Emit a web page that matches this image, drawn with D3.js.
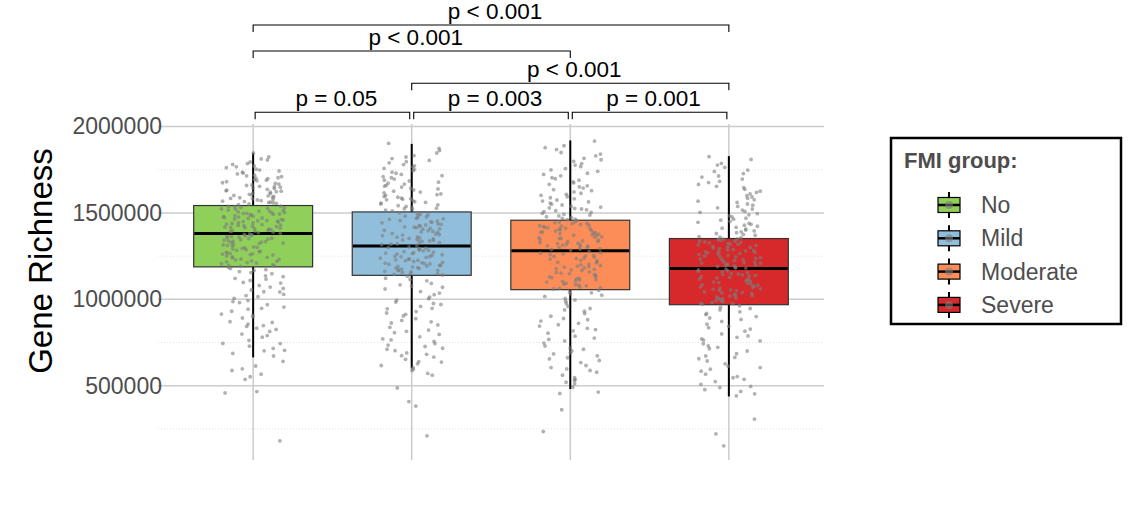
<!DOCTYPE html>
<html>
<head>
<meta charset="utf-8">
<script src="https://cdn.jsdelivr.net/npm/d3@7"></script>
<style>
body { margin: 0; background: #fff; }
text { font-family: 'Liberation Sans', Arial, Helvetica, sans-serif; }
</style>
</head>
<body>
<svg id="chart" width="1138" height="505"></svg>
<script>
let groups = ['No', 'Mild', 'Moderate', 'Severe']
let colors = ['#8fd05a', '#91bfdb', '#fc8d59', '#d7292b']

// box statistics, in thousands
let q1 = [1188, 1139, 1056, 969]
let medians = [1381, 1309, 1282, 1178]
let q3 = [1543, 1506, 1458, 1352]
let whiskerLow = [664, 600, 481, 438]
let whiskerHigh = [1848, 1900, 1920, 1829]

let yTicks = [500, 1000, 1500, 2000]
let yMinor = [250, 750, 1250, 1750]

// individual samples (thousands)
let noPts = [181, 458, 466, 537, 552, 567, 588, 598, 614, 641,
    672, 687, 705, 716, 729, 744, 763, 781, 799, 814, 833, 848, 857, 871, 892, 899, 915, 931, 943, 955, 969, 981, 993, 1006, 1015, 1029, 1043, 1054, 1071, 1080, 1094, 1109, 1121, 1136, 1148, 1161, 1167, 1178, 1185,
    1191, 1197, 1201, 1210, 1213, 1220, 1223, 1229, 1234, 1240, 1246, 1251, 1256, 1262, 1269, 1272, 1278, 1283, 1287, 1295, 1298, 1304, 1308, 1315, 1319, 1323, 1328, 1334, 1337, 1342, 1348, 1351, 1357, 1360, 1365, 1368, 1373, 1376, 1379,
    1383, 1389, 1392, 1395, 1400, 1404, 1407, 1412, 1416, 1418, 1423, 1428, 1430, 1435, 1439, 1442, 1447, 1450, 1455, 1457, 1462, 1465, 1471, 1474, 1478, 1481, 1487, 1490, 1494, 1498, 1502, 1505, 1509, 1514, 1517, 1523, 1526, 1532, 1535, 1540,
    1548, 1552, 1559, 1563, 1568, 1575, 1579, 1584, 1590, 1596, 1601, 1608, 1612, 1620, 1623, 1632, 1637, 1641, 1649, 1654, 1662, 1667, 1675, 1681, 1690, 1694, 1704, 1710, 1719, 1726, 1736, 1743, 1753, 1762, 1772, 1781, 1795, 1807, 1824, 1847,
    702, 745, 790, 826, 866, 905, 948, 987, 1022, 1063, 1098, 1131, 1155, 1172, 1194, 1206, 1217, 1231, 1243, 1259, 1266, 1276, 1291, 1301, 1312, 1326, 1331, 1345, 1354, 1363,
    1371, 1386, 1397, 1409, 1414, 1421, 1433, 1444, 1452, 1460, 1468, 1476, 1484, 1492, 1500, 1511, 1520, 1529, 1538, 1556, 1566, 1571, 1582, 1588, 1599, 1605, 1616, 1628, 1644, 1652,
    1659, 1671, 1686, 1699, 1715, 1731, 1748, 1767, 1786, 1813, 843, 1044, 1117, 1263, 1339, 1426, 1497, 1561, 1626, 1701]
let mildPts = [210, 382, 408, 487, 561, 571, 587, 596,
    604, 617, 627, 640, 653, 666, 674, 690, 703, 717, 727, 744, 756, 771, 783, 797, 807, 822, 838, 852, 863, 878, 888, 904, 913, 929, 945, 959, 970, 984, 995, 1013, 1027, 1045, 1060, 1077, 1092, 1107, 1122, 1134,
    1141, 1148, 1150, 1156, 1159, 1162, 1168, 1170, 1175, 1178, 1184, 1187, 1190, 1196, 1198, 1203, 1207, 1210, 1214, 1219, 1223, 1226, 1232, 1234, 1239, 1243, 1246, 1250, 1255, 1258, 1262, 1268, 1270, 1276, 1280, 1283, 1290, 1293, 1300, 1304,
    1312, 1319, 1321, 1328, 1332, 1335, 1342, 1344, 1350, 1353, 1360, 1362, 1369, 1372, 1378, 1381, 1388, 1390, 1397, 1400, 1406, 1408, 1415, 1418, 1424, 1427, 1434, 1437, 1443, 1446, 1453, 1456, 1463, 1466, 1473, 1477, 1485, 1489, 1497, 1501,
    1512, 1517, 1525, 1528, 1538, 1542, 1552, 1557, 1565, 1571, 1580, 1586, 1595, 1601, 1610, 1616, 1626, 1633, 1643, 1650, 1660, 1667, 1678, 1685, 1696, 1704, 1716, 1723, 1736, 1745, 1758, 1767, 1780, 1790, 1804, 1815, 1832, 1847, 1874, 1903,
    637, 682, 735, 765, 815, 870, 921, 976, 1036, 1084, 1115, 1145, 1166, 1181, 1193, 1212, 1229, 1248, 1265, 1286, 1297, 1316, 1338, 1356, 1375, 1393, 1411, 1431, 1449, 1469,
    1481, 1493, 1521, 1547, 1561, 1576, 1591, 1606, 1621, 1639, 1655, 1672, 1690, 1710, 1730, 1751, 1773, 1797, 1824, 1861, 711, 948, 1004, 1070, 1205, 1273, 1347, 1420, 1532, 1583]
let moderatePts = [235, 361, 455, 463,
    491, 511, 529, 536, 546, 561, 578, 588, 605, 617, 634, 646, 662, 673, 690, 701, 719, 730, 747, 759, 776, 787, 804, 817, 832, 845, 861, 874, 889, 902, 918, 931, 947, 960, 976, 989, 1005, 1017, 1032, 1043, 1052,
    1060, 1067, 1071, 1078, 1082, 1089, 1093, 1100, 1104, 1112, 1115, 1122, 1126, 1134, 1137, 1145, 1148, 1156, 1159, 1167, 1170, 1178, 1182, 1189, 1192, 1200, 1204, 1211, 1215, 1222, 1226, 1233, 1237, 1244, 1248, 1255, 1259, 1267, 1270, 1278,
    1285, 1291, 1293, 1300, 1302, 1308, 1310, 1317, 1319, 1325, 1328, 1334, 1336, 1343, 1345, 1351, 1354, 1360, 1362, 1369, 1371, 1377, 1380, 1386, 1388, 1395, 1397, 1403, 1406, 1412, 1414, 1421, 1423, 1429, 1432, 1438, 1440, 1447, 1449, 1456,
    1464, 1469, 1478, 1483, 1492, 1498, 1507, 1513, 1523, 1529, 1539, 1546, 1557, 1564, 1575, 1582, 1594, 1602, 1614, 1622, 1635, 1644, 1657, 1666, 1680, 1690, 1704, 1715, 1730, 1741, 1757, 1769, 1786, 1799, 1816, 1831, 1850, 1867, 1889, 1916,
    520, 597, 655, 711, 768, 825, 882, 939, 996, 1038, 1064, 1086, 1108, 1130, 1152, 1174, 1196, 1218, 1240, 1263, 1288, 1305, 1322, 1339, 1357, 1374, 1391, 1409, 1426, 1443,
    1461, 1474, 1488, 1503, 1518, 1534, 1551, 1569, 1588, 1608, 1629, 1651, 1674, 1698, 1723, 1749, 1777, 1808, 1841, 1878, 684, 853, 1024, 1119, 1186, 1252, 1314, 1383, 1417, 1526]
let severePts = [152, 221, 307,
    441, 453, 467, 477, 496, 508, 524, 537, 553, 567, 584, 596, 613, 627, 643, 656, 672, 685, 701, 714, 730, 743, 759, 771, 788, 800, 816, 828, 844, 856, 872, 884, 900, 912, 928, 939, 954, 963,
    972, 977, 983, 987, 993, 998, 1003, 1009, 1013, 1019, 1024, 1029, 1034, 1040, 1044, 1050, 1055, 1061, 1065, 1071, 1076, 1082, 1086, 1092, 1097, 1103, 1107, 1113, 1118, 1124, 1128, 1134, 1139, 1145, 1149, 1155, 1160, 1166, 1170, 1175,
    1181, 1185, 1190, 1193, 1199, 1202, 1207, 1211, 1216, 1219, 1225, 1228, 1233, 1237, 1242, 1246, 1251, 1254, 1260, 1263, 1268, 1272, 1277, 1280, 1286, 1289, 1294, 1298, 1303, 1306, 1312, 1315, 1320, 1324, 1329, 1333, 1338, 1341, 1346, 1350,
    1357, 1363, 1371, 1376, 1386, 1391, 1401, 1407, 1417, 1423, 1434, 1440, 1451, 1458, 1470, 1477, 1489, 1496, 1509, 1517, 1530, 1538, 1552, 1561, 1576, 1585, 1600, 1610, 1626, 1637, 1654, 1665, 1683, 1696, 1714, 1728, 1748, 1764, 1787, 1826,
    489, 546, 605, 664, 722, 780, 836, 892, 947, 975, 990, 1006, 1021, 1037, 1053, 1068, 1084, 1100, 1116, 1131, 1147, 1163, 1183, 1196, 1213, 1231, 1248, 1266, 1283, 1300,
    1318, 1335, 1348, 1360, 1381, 1396, 1412, 1429, 1446, 1464, 1483, 1503, 1523, 1545, 1568, 1593, 1619, 1647, 1676, 1708, 1740, 1777, 1810, 764, 918, 1058, 1141, 1209, 1274, 1327]

// significance brackets
let bracketFrom = ['No', 'Mild', 'Moderate', 'Mild', 'No', 'No']
let bracketTo = ['Mild', 'Moderate', 'Severe', 'Severe', 'Moderate', 'Severe']
let bracketLevel = [2083, 2083, 2083, 2251, 2438, 2588]
let bracketLabels = ['p = 0.05', 'p = 0.003', 'p = 0.001', 'p < 0.001', 'p < 0.001', 'p < 0.001']

function main() {
    let svg = d3.select('#chart'),
        panel = {left: 158, right: 824, top: 124, bottom: 460}

    let xScale = d3.scalePoint().domain(groups).range([panel.left, panel.right]).padding(0.6),
        yScale = d3.scaleLinear().domain([70, 2015]).range([panel.bottom, panel.top]),
        color = d3.scaleOrdinal().domain(groups).range(colors)
    let step = xScale.step(),
        boxW = step * 0.75,
        jitterW = step * 0.2

    svg.append('rect').attr('width', 1138).attr('height', 505).attr('fill', '#fff')

    // grid
    svg.append('g').selectAll('line')
        .data(yMinor)
        .enter()
        .append('line')
        .attr('x1', panel.left).attr('x2', panel.right)
        .attr('y1', d => yScale(d)).attr('y2', d => yScale(d))
        .attr('stroke', '#e2e2e2')
        .attr('stroke-dasharray', '1,2')

    svg.append('g').selectAll('line')
        .data(yTicks)
        .enter()
        .append('line')
        .attr('x1', panel.left).attr('x2', panel.right)
        .attr('y1', d => yScale(d)).attr('y2', d => yScale(d))
        .attr('stroke', '#cccccc')
        .attr('stroke-width', 1.5)

    svg.append('g').selectAll('line')
        .data(groups)
        .enter()
        .append('line')
        .attr('x1', d => xScale(d)).attr('x2', d => xScale(d))
        .attr('y1', panel.top).attr('y2', panel.bottom)
        .attr('stroke', '#cccccc')
        .attr('stroke-width', 1.5)

    // y axis
    let yAxis = svg.append('g')
        .attr('transform', 'translate(' + (panel.left + 4) + ', 0)')
        .call(d3.axisLeft(yScale).tickValues(yTicks).tickSize(0).tickPadding(0)
            .tickFormat(d => d3.format('d')(d * 1000)))
    yAxis.select('.domain').remove()
    yAxis.selectAll('text')
        .attr('font-size', 23)
        .attr('font-family', "'Liberation Sans', Arial, sans-serif")
        .attr('fill', '#4d4d4d')

    svg.append('text')
        .attr('transform', 'translate(52, 261) rotate(-90)')
        .attr('text-anchor', 'middle')
        .attr('font-size', 33)
        .attr('fill', '#000')
        .text('Gene Richness')

    let boxes = groups.map((g, i) => ({
        group: g, q1: q1[i], median: medians[i], q3: q3[i], lo: whiskerLow[i], hi: whiskerHigh[i]
    }))

    // whiskers
    let wh = svg.append('g')
    wh.selectAll('.whisker-hi')
        .data(boxes)
        .enter()
        .append('line')
        .attr('x1', d => xScale(d.group)).attr('x2', d => xScale(d.group))
        .attr('y1', d => yScale(d.hi)).attr('y2', d => yScale(d.q3))
        .attr('stroke', '#000').attr('stroke-width', 2)
    wh.selectAll('.whisker-lo')
        .data(boxes)
        .enter()
        .append('line')
        .attr('x1', d => xScale(d.group)).attr('x2', d => xScale(d.group))
        .attr('y1', d => yScale(d.q1)).attr('y2', d => yScale(d.lo))
        .attr('stroke', '#000').attr('stroke-width', 2)

    // boxes
    svg.append('g').selectAll('rect')
        .data(boxes)
        .enter()
        .append('rect')
        .attr('x', d => xScale(d.group) - boxW / 2)
        .attr('width', boxW)
        .attr('y', d => yScale(d.q3))
        .attr('height', d => yScale(d.q1) - yScale(d.q3))
        .attr('fill', d => color(d.group))
        .attr('stroke', '#333')
        .attr('stroke-width', 1.2)

    svg.append('g').selectAll('line')
        .data(boxes)
        .enter()
        .append('line')
        .attr('x1', d => xScale(d.group) - boxW / 2 + 0.6)
        .attr('x2', d => xScale(d.group) + boxW / 2 - 0.6)
        .attr('y1', d => yScale(d.median)).attr('y2', d => yScale(d.median))
        .attr('stroke', '#000').attr('stroke-width', 3)

    // jittered points
    let series = [noPts, mildPts, moderatePts, severePts]
    let points = []
    series.forEach((vals, gi) => {
        vals.forEach((v, i) => {
            let h = Math.sin((i + 1) * 12.9898 + gi * 78.233) * 43758.5453
            h = h - Math.floor(h)
            points.push({group: groups[gi], value: v, off: (h * 2 - 1) * jitterW})
        })
    })
    svg.append('g').selectAll('circle')
        .data(points)
        .enter()
        .append('circle')
        .attr('cx', d => xScale(d.group) + d.off)
        .attr('cy', d => yScale(d.value))
        .attr('r', 1.9)
        .attr('fill', '#7d7d7d')
        .attr('fill-opacity', 0.6)

    // brackets
    let tip = 7
    let brackets = bracketLabels.map((label, i) => {
        let a = xScale(bracketFrom[i]), b = xScale(bracketTo[i])
        let adjacent = Math.abs(groups.indexOf(bracketTo[i]) - groups.indexOf(bracketFrom[i])) === 1
        if (adjacent) { a += 2; b -= 2 }
        return {x1: a, x2: b, y: yScale(bracketLevel[i]), label: label}
    })
    let bg = svg.append('g')
    bg.selectAll('path')
        .data(brackets)
        .enter()
        .append('path')
        .attr('d', d => 'M' + d.x1 + ',' + (d.y + tip) + 'V' + d.y + 'H' + d.x2 + 'V' + (d.y + tip))
        .attr('fill', 'none')
        .attr('stroke', '#000')
        .attr('stroke-width', 1.1)
    bg.selectAll('text')
        .data(brackets)
        .enter()
        .append('text')
        .attr('x', d => (d.x1 + d.x2) / 2 + 4)
        .attr('y', d => d.y - 6)
        .attr('text-anchor', 'middle')
        .attr('font-size', 22.5)
        .attr('fill', '#000')
        .text(d => d.label)

    // legend
    let legend = svg.append('g').attr('transform', 'translate(891, 138)')
    legend.append('rect')
        .attr('width', 230).attr('height', 186)
        .attr('fill', '#fff')
        .attr('stroke', '#000')
        .attr('stroke-width', 2.5)
    legend.append('text')
        .attr('x', 13).attr('y', 30)
        .attr('font-size', 22)
        .attr('font-weight', 'bold')
        .attr('fill', '#4d4d4d')
        .text('FMI group:')
    let keys = legend.selectAll('.key')
        .data(groups)
        .enter()
        .append('g')
        .attr('transform', (d, i) => 'translate(58, ' + (67 + i * 33.3) + ')')
    keys.append('line')
        .attr('y1', -13).attr('y2', 13)
        .attr('stroke', '#000').attr('stroke-width', 2)
    keys.append('rect')
        .attr('x', -11).attr('y', -7.5)
        .attr('width', 22).attr('height', 15)
        .attr('fill', d => color(d))
        .attr('stroke', '#000').attr('stroke-width', 1.2)
    keys.append('line')
        .attr('x1', -11).attr('x2', 11)
        .attr('stroke', '#000').attr('stroke-width', 2.5)
    keys.append('circle')
        .attr('r', 4)
        .attr('fill', '#7d7d7d')
        .attr('fill-opacity', 0.6)
    keys.append('text')
        .attr('x', 32).attr('y', 8)
        .attr('font-size', 23)
        .attr('fill', '#4d4d4d')
        .text(d => d)
}

main()
</script>
</body>
</html>
